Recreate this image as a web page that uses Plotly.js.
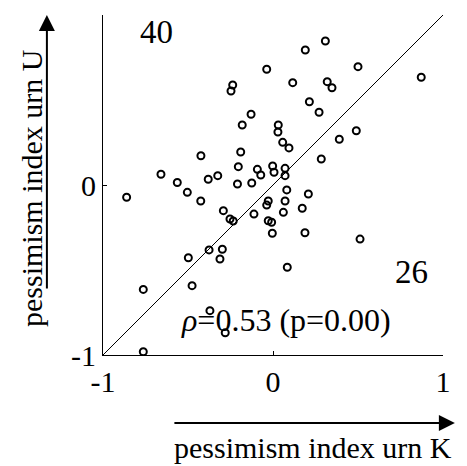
<!DOCTYPE html>
<html>
<head>
<meta charset="utf-8">
<script src="https://cdn.plot.ly/plotly-3.0.1.min.js"></script>
</head>
<body style="margin:0;background:#fff">
<div id="chart" style="width:467px;height:466px"></div>
<script>
// pessimism index urn K (x) and urn U (y)
var urnK = [-0.037,-0.237,-0.247,-0.129,-0.181,-0.424,-0.190,-0.204,-0.092,-0.072,-0.002,0.006,-0.659,-0.563,-0.381,-0.325,-0.209,-0.125,
  0.308,0.190,0.500,0.872,0.116,0.319,0.347,0.214,0.271,0.031,0.029,0.057,0.094,0.490,0.390,0.284,0.071,0.071,
  -0.861,-0.504,-0.425,-0.292,-0.253,-0.234,-0.112,-0.028,-0.037,-0.028,-0.008,-0.004,-0.498,-0.376,-0.298,-0.312,
  -0.763,-0.476,-0.371,-0.281,-0.763,0.081,0.208,0.071,0.172,0.061,0.188,0.512,0.084];
var urnU = [0.681,0.588,0.553,0.416,0.353,0.172,0.194,0.108,0.092,0.059,0.112,0.075,0.063,0.015,0.034,0.055,0.006,0.012,
  0.847,0.794,0.696,0.634,0.602,0.608,0.572,0.490,0.428,0.353,0.312,0.251,0.218,0.319,0.269,0.153,0.098,0.055,
  -0.072,-0.043,-0.094,-0.151,-0.200,-0.212,-0.171,-0.094,-0.118,-0.210,-0.219,-0.284,-0.428,-0.382,-0.378,-0.435,
  -0.614,-0.592,-0.739,-0.869,-0.981,-0.029,-0.053,-0.094,-0.137,-0.161,-0.281,-0.318,-0.484];
var diagX = [-1, 1];
var diagY = [-1, 1];
var tickVals = [-1, 0, 1];
var tickText = ['-1', '0', '1'];
var countAbove = '40';
var countBelow = '26';
var corrText = '<i>ρ</i>=0.53 (p=0.00)';
var xTitle = 'pessimism index urn K';
var yTitle = 'pessimism index urn U';

var FONT = 'Liberation Serif';

var traces = [
  {x: diagX, y: diagY, mode: 'lines', line: {color: 'black', width: 1}, hoverinfo: 'skip', showlegend: false},
  {x: urnK, y: urnU, mode: 'markers', type: 'scatter',
   marker: {symbol: 'circle-open', size: 7, color: 'black', line: {color: 'black', width: 2}}, showlegend: false}
];

function axisCommon() {
  return {
    range: [-1, 1], tickvals: tickVals, ticktext: tickText,
    showgrid: false, zeroline: false, showline: true, linecolor: 'black', linewidth: 1,
    ticks: 'inside', ticklen: 4, tickwidth: 1, tickcolor: 'black',
    tickfont: {family: FONT, size: 30, color: 'black'}, fixedrange: true
  };
}

function ann(x, y, text, size, extra) {
  var a = {x: x, y: y, xref: 'x', yref: 'y', text: text, showarrow: false,
           xanchor: 'center', yanchor: 'middle', font: {family: FONT, size: size, color: 'black'}};
  for (var k in (extra || {})) a[k] = extra[k];
  return a;
}

var layout = {
  width: 467, height: 466,
  margin: {l: 103, r: 24, t: 15, b: 111},
  paper_bgcolor: 'white', plot_bgcolor: 'white',
  font: {family: FONT},
  xaxis: axisCommon(),
  yaxis: axisCommon(),
  annotations: [
    ann(-0.688, 0.9, countAbove, 33),
    ann(0.812, -0.512, countBelow, 33),
    ann(0.076, -0.794, corrText, 32),
    {x: 1.035, y: -0.2, xref: 'paper', yref: 'paper', text: '', showarrow: true,
     ax: -282, ay: 0, arrowhead: 2, arrowsize: 1.6, arrowwidth: 2, arrowcolor: 'black', standoff: 0},
    ann(0.618, -0.271, xTitle, 30, {xref: 'paper', yref: 'paper'}),
    {x: -0.165, y: 1.0, xref: 'paper', yref: 'paper', text: '', showarrow: true,
     ax: 0, ay: 275, arrowhead: 2, arrowsize: 1.6, arrowwidth: 2, arrowcolor: 'black', standoff: 0},
    ann(-0.21, 0.49, yTitle, 30, {xref: 'paper', yref: 'paper', textangle: -90})
  ]
};

function draw() { Plotly.newPlot('chart', traces, layout, {displayModeBar: false}); }
if (document.fonts && document.fonts.ready) { document.fonts.ready.then(draw); } else { draw(); }
</script>
</body>
</html>
